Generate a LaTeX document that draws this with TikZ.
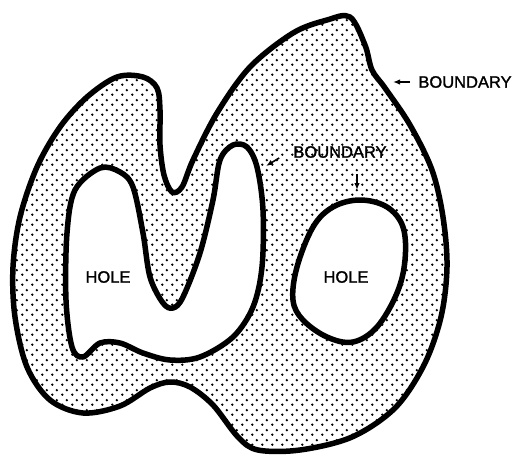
\documentclass[tikz,border=0pt]{standalone}
\usepackage{fontspec}
\setmainfont{Liberation Sans}
\newfontfamily\lblfont[FakeBold=1.5]{Liberation Sans}
\usetikzlibrary{arrows.meta, patterns.meta}

\tikzdeclarepattern{
  name=stipple,
  type=uncolored,
  bottom left={(0pt,0pt)},
  top right={(10pt,10pt)},
  tile size={(10pt,10pt)},
  code={
    \fill (2.5pt,2.5pt) circle (1.4pt);
    \fill (7.5pt,7.5pt) circle (1.4pt);
  }
}

\begin{document}
\begin{tikzpicture}[
  x=1pt, y=-1pt,
  every node/.style={font=\lblfont\fontsize{16.5}{18}\selectfont, inner sep=0pt},
  edge line/.style={line width=5.5pt, line join=round},
  arr/.style={-{Latex[length=7pt, width=5.5pt]}, line width=1.6pt}
]
  \useasboundingbox (0,0) rectangle (517,456);

  % region between the outer boundary and the two holes
  \fill[pattern=stipple, pattern color=black, even odd rule]
    plot[smooth cycle, tension=0.55] coordinates {
      (350,17) (365,45) (372,70) (385,88) (410,125) (432,170) (443,217)
      (447,267) (441,317) (424,365) (395,408) (352,437) (300,450) (258,450)
      (238,437) (213,405) (190,387) (170,382) (150,388) (120,406) (83,413)
      (50,400) (27,367) (15,317) (13,267) (20,217) (37,167) (60,127)
      (87,97) (117,77) (143,77) (157,88) (160,110) (160,145) (164,175)
      (172,192) (182,187) (193,160) (217,113) (250,67) (293,33) (327,20)}
    plot[smooth cycle, tension=0.55] coordinates {
      (100,168) (120,172) (133,187) (143,233) (150,277) (163,303) (173,308)
      (183,297) (200,253) (213,200) (220,160) (233,145) (247,147) (257,167)
      (263,210) (262,267) (253,307) (233,337) (200,357) (170,360) (143,353)
      (120,343) (100,343) (83,357) (72,347) (66,300) (67,233) (75,190)}
    plot[smooth cycle, tension=0.6] coordinates {
      (360,200) (387,207) (403,227) (405,260) (397,293) (377,327) (353,342)
      (327,337) (303,320) (293,300) (297,267) (313,227) (333,207)};

  % outer boundary
  \draw[edge line] plot[smooth cycle, tension=0.55] coordinates {
      (350,17) (365,45) (372,70) (385,88) (410,125) (432,170) (443,217)
      (447,267) (441,317) (424,365) (395,408) (352,437) (300,450) (258,450)
      (238,437) (213,405) (190,387) (170,382) (150,388) (120,406) (83,413)
      (50,400) (27,367) (15,317) (13,267) (20,217) (37,167) (60,127)
      (87,97) (117,77) (143,77) (157,88) (160,110) (160,145) (164,175)
      (172,192) (182,187) (193,160) (217,113) (250,67) (293,33) (327,20)};

  % left hole
  \draw[edge line] plot[smooth cycle, tension=0.55] coordinates {
      (100,168) (120,172) (133,187) (143,233) (150,277) (163,303) (173,308)
      (183,297) (200,253) (213,200) (220,160) (233,145) (247,147) (257,167)
      (263,210) (262,267) (253,307) (233,337) (200,357) (170,360) (143,353)
      (120,343) (100,343) (83,357) (72,347) (66,300) (67,233) (75,190)};

  % right hole
  \draw[edge line] plot[smooth cycle, tension=0.6] coordinates {
      (360,200) (387,207) (403,227) (405,260) (397,293) (377,327) (353,342)
      (327,337) (303,320) (293,300) (297,267) (313,227) (333,207)};

  % labels
  \node (bdout) at (465,82) {BOUNDARY};
  \node (bdin) at (340,152) {BOUNDARY};
  \node (holeL) at (108,277) {HOLE};
  \node (holeR) at (346,277) {HOLE};

  \coordinate (outtip) at (393,82);
  \coordinate (intip) at (266,166);
  \coordinate (holetip) at (357,190);

  \draw[arr] ([xshift=-8pt]bdout.west) -- (outtip);
  \draw[arr] ([shift={(-14pt,-6pt)}]bdin.west) -- (intip);
  \draw[arr] ([shift={(17pt,-16pt)}]bdin.south) -- (holetip);
\end{tikzpicture}
\end{document}
